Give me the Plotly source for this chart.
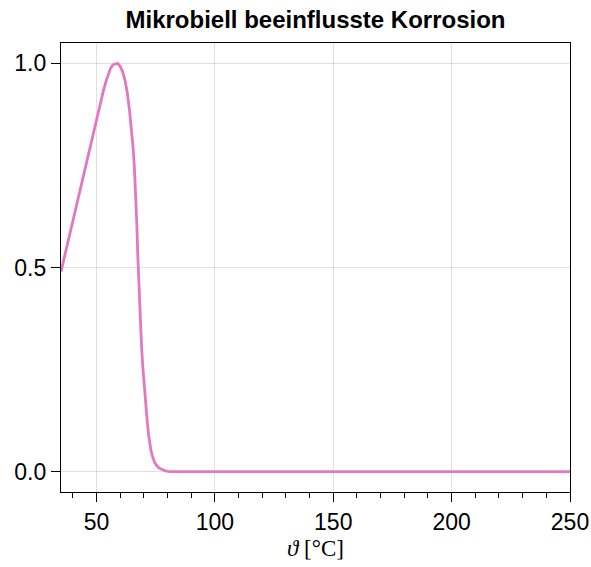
import plotly.graph_objects as go

# Temperature [°C] and normalized MIC intensity
theta = [35, 36, 37, 38, 39, 40, 41, 42, 43, 44, 45, 46, 47, 48, 49, 50,
         51, 52, 53, 54, 55, 56, 57, 58, 58.9, 60, 61, 62, 63, 64, 65,
         65.5, 66, 66.5, 67, 67.5, 68, 68.5, 69, 69.5, 70, 70.5, 71, 71.5,
         72, 72.5, 73, 73.5, 74, 74.5, 75, 76, 77, 78, 79, 80, 82, 100, 150,
         200, 250]
mic = [0.490, 0.515, 0.540, 0.565, 0.590, 0.615, 0.640, 0.665, 0.690, 0.715,
       0.740, 0.765, 0.790, 0.814, 0.838, 0.863, 0.888, 0.912, 0.935, 0.956,
       0.975, 0.989, 0.997, 0.999, 1.000, 0.993, 0.980, 0.960, 0.928,
       0.882, 0.825, 0.790, 0.745, 0.685, 0.610, 0.520, 0.440, 0.370, 0.310,
       0.260, 0.218, 0.180, 0.148, 0.118, 0.090, 0.068, 0.052, 0.040, 0.030,
       0.023, 0.018, 0.011, 0.007, 0.004, 0.002, 0.0005, 0.0, 0.0, 0.0, 0.0,
       0.0]

x_ticks = [50, 100, 150, 200, 250]
y_ticks = [0.0, 0.5, 1.0]
y_tick_labels = ["0.0", "0.5", "1.0"]

title_text = "Mikrobiell beeinflusste Korrosion"
x_label = "<i>ϑ</i> [°C]"

fig = go.Figure()
fig.add_trace(go.Scatter(
    x=theta, y=mic, mode="lines",
    line=dict(color="#e377c2", width=2.8),
    showlegend=False, hoverinfo="skip"))

font_main = "Liberation Sans, Arial, Helvetica, sans-serif"

fig.update_layout(
    width=591, height=567,
    margin=dict(l=61, r=21, t=43, b=75),
    paper_bgcolor="white", plot_bgcolor="white",
    title=dict(text="<b>" + title_text + "</b>", x=(61 + 570) / 2 / 591,
               xanchor="center", y=1 - 20 / 567, yanchor="middle",
               font=dict(family=font_main, size=24, color="black")),
    xaxis=dict(
        range=[35, 250], tickvals=x_ticks, ticktext=[str(v) for v in x_ticks],
        automargin=False,
        showgrid=True, gridcolor="rgba(0,0,0,0.12)", gridwidth=1,
        zeroline=False, showline=True, linecolor="black", linewidth=1.2,
        mirror=True, ticks="outside", ticklen=9, tickwidth=1.2,
        tickcolor="black",
        minor=dict(dtick=10, tick0=0, ticks="outside", ticklen=5,
                   tickwidth=1.2, tickcolor="black", showgrid=False),
        tickfont=dict(family=font_main, size=23, color="black"),
        title=dict(text=x_label, standoff=6,
                   font=dict(family="Liberation Serif, DejaVu Serif, serif",
                             size=23, color="black")),
    ),
    yaxis=dict(
        range=[-0.05, 1.05], tickvals=y_ticks, ticktext=y_tick_labels,
        automargin=False,
        showgrid=True, gridcolor="rgba(0,0,0,0.12)", gridwidth=1,
        zeroline=False, showline=True, linecolor="black", linewidth=1.2,
        mirror=True, ticks="outside", ticklen=9, tickwidth=1.2,
        tickcolor="black",
        tickfont=dict(family=font_main, size=23, color="black"),
    ),
)

fig.write_html("out.html")
